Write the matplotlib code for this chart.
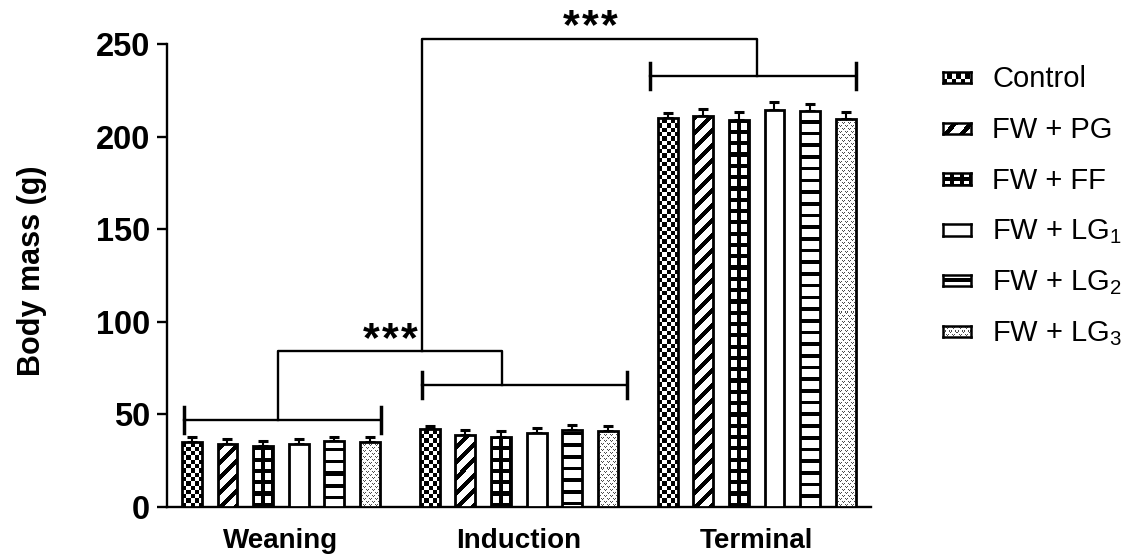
import numpy as np
import matplotlib
matplotlib.use('Agg')
import matplotlib.pyplot as plt
from matplotlib.transforms import offset_copy

plt.rcParams['font.family'] = ['Liberation Sans', 'DejaVu Sans']
plt.rcParams['mathtext.fontset'] = 'custom'
plt.rcParams['mathtext.rm'] = 'Liberation Sans'

stages = ['Weaning', 'Induction', 'Terminal']
treatments = ['Control', 'FW + PG', 'FW + FF',
              'FW + LG$_1$', 'FW + LG$_2$', 'FW + LG$_3$']
fills = ['checker', 'diag', 'grid', 'open', 'hstripe', 'stipple']

# mean body mass (g) per treatment, and upper SEM
weaning = [35.1, 33.9, 32.8, 33.9, 35.7, 35.1]
induction = [42.0, 38.6, 37.7, 39.7, 41.4, 41.1]
terminal = [209.8, 211.1, 208.9, 214.3, 213.9, 209.3]
weaning_sem = [2.7, 2.7, 2.7, 2.5, 2.1, 2.4]
induction_sem = [1.6, 2.7, 3.2, 3.0, 2.7, 2.5]
terminal_sem = [3.1, 3.6, 4.5, 4.5, 3.7, 4.1]

# significance brackets: (left, right, height) per stage, stems, links
stage_brackets = [(-0.22, 5.31, 46.8), (6.45, 12.23, 65.7), (12.87, 18.65, 232.7)]
bracket_stems = [2.41, 8.70, 15.86]
link_low = 84.3
link_high = 252.7
link_x = 6.45
star_pos = [(5.56, 84.0), (11.18, 253.0)]  # baseline of the *** marks

mass = np.array([weaning, induction, terminal])
sem = np.array([weaning_sem, induction_sem, terminal_sem])


def texture(kind, w, h, grid_cols=2, grid_rows=None):
    yy, xx = np.mgrid[0:h, 0:w] + 0.5
    img = np.ones((h, w))
    if kind == 'checker':
        c = 4.3
        img = ((np.floor(xx / c) + np.floor(yy / c)) % 2).astype(float)
    elif kind == 'diag':
        img[((xx - yy) % 15) < 6] = 0
    elif kind == 'grid':
        p = w / grid_cols
        d = np.abs(((xx + p / 2) % p) - p / 2)
        if grid_rows:
            q = h / grid_rows
            dy = np.abs(((yy + q / 2) % q) - q / 2)
            rows = dy < 1.4
        else:
            rows = (yy % 11.3) < 4.2
        img[(d < 2.0) | rows] = 0
    elif kind == 'hstripe':
        img[((yy - h / 2 + 1.8) % 11.7) < 3.6] = 0
    elif kind == 'stipple':
        xi = xx.astype(int) % 6
        yi = yy.astype(int) % 6
        dots = (((yi == 5) & ((xi == 0) | (xi == 2))) | ((yi == 4) & (xi == 1)) |
                ((yi == 2) & ((xi == 3) | (xi == 5))) | ((yi == 1) & (xi == 4)))
        img[dots] = 0.3
    return img


W, H = 1134, 555
fig = plt.figure(figsize=(W / 100, H / 100), dpi=100)
ax = fig.add_axes([167.3 / W, 1 - 506.7 / H, (871 - 167.3) / W, (506.7 - 44) / H])

xlim = (-0.69, 19.07)
ylim = (0, 250)
ax.set_xlim(*xlim)
ax.set_ylim(*ylim)

gap = 0.68
bar_w = 0.56
starts = np.arange(len(stages)) * (len(treatments) + gap)

for g, s in enumerate(starts):
    xs = s + np.arange(len(treatments))
    ax.errorbar(xs, mass[g], yerr=[np.zeros(len(xs)), sem[g]], fmt='none',
                ecolor='black', elinewidth=1.5, capsize=3.8, capthick=2.2, zorder=2)
    bars = ax.bar(xs, mass[g], width=bar_w, facecolor='none', edgecolor='black',
                  linewidth=2.0, zorder=4)
    for bar, kind in zip(bars, fills):
        x0 = bar.get_x()
        x1 = x0 + bar.get_width()
        h = bar.get_height()
        (px0, py0), (px1, py1) = ax.transData.transform([(x0, 0), (x1, h)])
        tex = texture(kind, max(int(round(px1 - px0)), 1), max(int(round(py1 - py0)), 1))
        im = ax.imshow(tex, cmap='gray', vmin=0, vmax=1, interpolation='nearest',
                       origin='lower', extent=(x0, x1, 0, h), aspect='auto', zorder=3)
        im.set_clip_path(bar)

ax.set_xlim(*xlim)
ax.set_ylim(*ylim)

# brackets over each stage and the links between them
for (l, r, y), stem in zip(stage_brackets, bracket_stems):
    ax.plot([l, r], [y, y], color='black', lw=1.7, clip_on=False, zorder=5)
    for xe in (l, r):
        ax.plot([xe, xe], [y - 6.9, y + 6.9], color='black', lw=2.5,
                clip_on=False, zorder=5)
ax.plot([bracket_stems[0], bracket_stems[0], bracket_stems[1], bracket_stems[1]],
        [stage_brackets[0][2], link_low, link_low, stage_brackets[1][2]],
        color='black', lw=1.7, clip_on=False, zorder=5)
ax.plot([link_x, link_x, bracket_stems[2], bracket_stems[2]],
        [link_low, link_high, link_high, stage_brackets[2][2]],
        color='black', lw=1.7, clip_on=False, zorder=5)
for sx, sy in star_pos:
    for k in (-1, 0, 1):
        tr = offset_copy(ax.transData, fig=fig, x=19 * k, y=0, units='dots')
        ax.text(sx, sy, '*', ha='center', va='baseline', fontsize=31,
                fontweight='bold', transform=tr, clip_on=False)

for side in ('top', 'right'):
    ax.spines[side].set_visible(False)
for side in ('left', 'bottom'):
    ax.spines[side].set_linewidth(1.7)

ax.set_yticks(np.arange(0, 251, 50))
ax.tick_params(axis='y', length=7.2, width=1.7, pad=5, labelsize=23.5)
for t in ax.get_yticklabels():
    t.set_fontweight('bold')
ax.set_xticks(starts + (len(treatments) - 1) / 2)
ax.set_xticklabels(stages, fontsize=20, fontweight='bold')
ax.tick_params(axis='x', length=0, pad=15)

ax.set_ylabel('Body mass (g)', fontsize=22, fontweight='bold')
ax.yaxis.set_label_coords(47 / W, 1 - 270.5 / H, transform=fig.transFigure)

# legend swatches drawn as small framed textures
row0 = 77.5
row_step = 50.8
sw_x0, sw_w, sw_h = 943.2, 27.5, 11.5
for i, (name, kind) in enumerate(zip(treatments, fills)):
    yc = row0 + i * row_step
    sw = fig.add_axes([sw_x0 / W, 1 - (yc + sw_h / 2) / H, sw_w / W, sw_h / H])
    sw.imshow(texture(kind, int(sw_w), int(sw_h), grid_cols=3, grid_rows=2),
              cmap='gray', vmin=0, vmax=1, interpolation='nearest',
              origin='lower', aspect='auto')
    sw.set_xticks([])
    sw.set_yticks([])
    for sp in sw.spines.values():
        sp.set_linewidth(1.8)
    fig.text(992 / W, 1 - (yc + 9.5) / H, name, fontsize=21, ha='left', va='baseline')

fig.savefig('out.png', dpi=100)
